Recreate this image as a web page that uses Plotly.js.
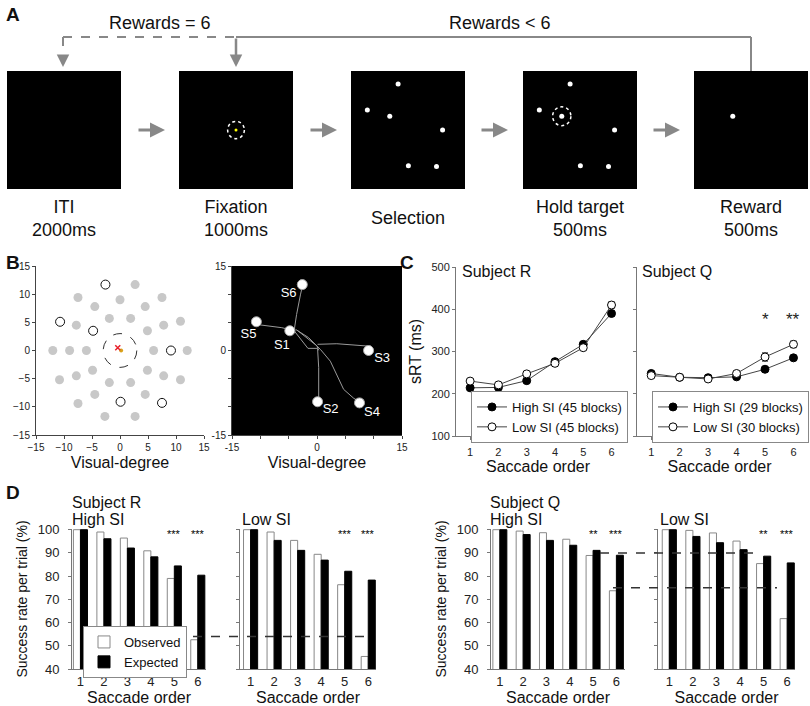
<!DOCTYPE html>
<html><head><meta charset="utf-8">
<script src="https://cdn.plot.ly/plotly-3.0.1.min.js"></script>
<style>html,body{margin:0;padding:0;background:#fff}#chart{width:810px;height:706px}</style>
</head><body><div id="chart"></div>
<script>
// ================= DATA =================
// Panel A: task stages
const stageNames = ['ITI', 'Fixation', 'Selection', 'Hold target', 'Reward'];
const stageDurations = ['2000ms', '1000ms', '', '500ms', '500ms'];
const loopLabels = ['Rewards = 6', 'Rewards < 6'];

// Panels A/B: example target set (visual degrees)
const targetNames = ['S1', 'S2', 'S3', 'S4', 'S5', 'S6'];
const targetX = [-4.8, 0.1, 9.1, 7.5, -10.7, -2.6];
const targetY = [3.5, -9.1, 0.0, -9.3, 5.1, 11.7];
const targetLabelX = [-6.2, 2.4, 11.5, 9.7, -12.1, -5.0];
const targetLabelY = [0.8, -10.6, -1.4, -11.0, 2.75, 10.0];

// Panel B left: other possible target positions (gray)
const gridX = [6, 4.9, 1.9, -1.9, -6, -4.9, -1.9, 1.9, 4.9,
  7.8, 4.5, 0, -4.5, -7.8, -9, -7.8, -4.5, 4.5, 7.8,
  12, 10.8, 7.5, 2.7, -7.5, -12, -10.8, -7.5, -2.7, 2.7, 10.8];
const gridY = [0, 3.5, 5.7, 5.7, 0, -3.5, -5.7, -5.7, -3.5,
  4.5, 7.8, 9, 7.8, 4.5, 0, -4.5, -7.8, -7.8, -4.5,
  0, 5.2, 9.4, 11.7, 9.4, 0, -5.2, -9.4, -11.7, -11.7, -5.2];
const eyeX = [-0.4], eyeY = [0.5];
const fixDotX = [0.2], fixDotY = [0.0];

// Panel B right: saccade trajectories (null separates saccades)
const trajX = [-3.8, -6.2, -10.5, null,
  -4.0, -3.6, -2.9, -2.6, null,
  -4.0, -1.6, 0.0, null,
  0.1, 0.3, 0.3, 0.1, null,
  0.1, 3.5, 8.8, 9.1, null,
  -3.8, -1.5, 0.6, 2.35, 4.7, 6.5, 7.35, null,
  -3.5, 0.0, 0.3];
const trajY = [3.46, 4.05, 4.6, null,
  3.76, 6.4, 10.0, 11.3, null,
  3.46, 0.38, 0.38, null,
  0.4, -3.05, -8.4, -9.0, null,
  1.1, 1.2, 0.8, 0.4, null,
  3.76, 2.3, 0.2, -1.9, -6.9, -8.5, -8.97, null,
  3.6, 0.8, 0.03];

// Panel C: saccadic reaction time (ms)
const saccadeOrder = [1, 2, 3, 4, 5, 6];
const srtR_high = [214, 215, 231, 276, 317, 390];
const srtR_high_err = [4, 3, 4, 5, 5, 6];
const srtR_low = [230, 221, 247, 272, 309, 410];
const srtR_low_err = [5, 4, 5, 5, 5, 8];
const srtQ_high = [248, 239, 238, 240, 258, 285];
const srtQ_high_err = [4, 3, 3, 3, 5, 5];
const srtQ_low = [243, 239, 235, 248, 287, 317];
const srtQ_low_err = [4, 3, 3, 4, 10, 8];
const legendNamesC = ['High SI (45 blocks)', 'Low SI (45 blocks)', 'High SI (29 blocks)', 'Low SI (30 blocks)'];
const starsC = ['', '', '', '', '*', '**'];

// Panel D: success rate per trial (%)
const succR_high_obs = [100, 99.0, 96.4, 90.9, 79.0, 52.6];
const succR_high_exp = [100, 96.1, 92.1, 88.3, 84.4, 80.4];
const succR_low_obs = [100, 99.0, 95.4, 89.4, 76.3, 45.4];
const succR_low_exp = [100, 95.4, 91.1, 86.9, 82.1, 78.3];
const succQ_high_obs = [100, 99.4, 98.7, 95.9, 88.9, 73.7];
const succQ_high_exp = [100, 97.9, 95.4, 93.3, 91.1, 89.0];
const succQ_low_obs = [100, 99.7, 98.6, 95.1, 85.4, 61.7];
const succQ_low_exp = [100, 97.1, 94.4, 91.4, 88.6, 85.7];
const starsDR = ['', '', '', '', '***', '***'];
const starsDQ = ['', '', '', '', '**', '***'];
const refLineR = 54;
const refLinesQ = [90, 75];

// ================= LAYOUT HELPERS =================
const W = 810, H = 706;
const px = v => v / W;
const py = v => 1 - v / H;
const xd = (a, b) => [px(a), px(b)];
const yd = (top, bot) => [py(bot), py(top)];
const FONT = 'Liberation Sans, Arial, Helvetica, sans-serif';

const traces = [];
const annotations = [];
const shapes = [];

// ---------- Panel A ----------
const boxCenters = [64, 236, 408, 580, 751];
const layoutAxes = {};
boxCenters.forEach((c, i) => {
  const n = i === 0 ? '' : String(i + 1);
  layoutAxes['xaxis' + n] = {domain: xd(c - 57, c + 57), range: [-15, 15], visible: false, fixedrange: true, anchor: 'y' + n};
  layoutAxes['yaxis' + n] = {domain: yd(71, 189), range: [-15, 15], visible: false, fixedrange: true, anchor: 'x' + n};
  shapes.push({type: 'rect', xref: 'x' + n + ' domain', yref: 'y' + n + ' domain', x0: 0, x1: 1, y0: 0, y1: 1,
    fillcolor: '#000', line: {width: 0}, layer: 'below'});
  const txt = stageDurations[i] ? stageNames[i] + '<br>' + stageDurations[i] : stageNames[i];
  annotations.push({xref: 'paper', yref: 'paper', x: px(c), y: py(218), text: txt, showarrow: false,
    xanchor: 'center', yanchor: 'middle', font: {size: 18, color: '#111'}});
});
// empty ITI screen (keeps the subplot alive)
traces.push({type: 'scatter', mode: 'markers', x: [null], y: [null], xaxis: 'x', yaxis: 'y',
  hoverinfo: 'skip', showlegend: false});
// fixation dot
traces.push({type: 'scatter', mode: 'markers', x: [0], y: [0], xaxis: 'x2', yaxis: 'y2',
  marker: {color: '#ffff00', size: 3}, hoverinfo: 'skip', showlegend: false});
shapes.push({type: 'circle', xref: 'x2', yref: 'y2', x0: -2.2, x1: 2.2, y0: -2.2, y1: 2.2,
  line: {color: '#fff', width: 1.5, dash: 'dot'}});
// selection & hold
['x3', 'x4'].forEach(xa => {
  traces.push({type: 'scatter', mode: 'markers', x: targetX, y: targetY, xaxis: xa, yaxis: 'y' + xa.slice(1),
    marker: {color: '#fff', size: 5}, hoverinfo: 'skip', showlegend: false});
});
shapes.push({type: 'circle', xref: 'x4', yref: 'y4', x0: targetX[0] - 2.4, x1: targetX[0] + 2.4,
  y0: targetY[0] - 2.4, y1: targetY[0] + 2.4, line: {color: '#fff', width: 1.5, dash: 'dot'}});
// reward
traces.push({type: 'scatter', mode: 'markers', x: [targetX[0]], y: [targetY[0]], xaxis: 'x5', yaxis: 'y5',
  marker: {color: '#fff', size: 5}, hoverinfo: 'skip', showlegend: false});
// flow arrows between boxes
[165, 337, 508, 680].forEach(tip => {
  annotations.push({xref: 'paper', yref: 'paper', x: px(tip), y: py(130), ax: -28, ay: 0, text: '',
    showarrow: true, arrowhead: 2, arrowsize: 1, arrowwidth: 3, arrowcolor: '#888'});
});
// loop connectors
const gcol = '#888';
shapes.push({type: 'line', xref: 'paper', yref: 'paper', x0: px(63), x1: px(236), y0: py(37), y1: py(37),
  line: {color: gcol, width: 2, dash: 'dash'}});
shapes.push({type: 'line', xref: 'paper', yref: 'paper', x0: px(63), x1: px(63), y0: py(37), y1: py(58),
  line: {color: gcol, width: 2, dash: 'dash'}});
annotations.push({xref: 'paper', yref: 'paper', x: px(63), y: py(67), ax: 0, ay: -10, text: '',
  showarrow: true, arrowhead: 2, arrowsize: 1, arrowwidth: 2.5, arrowcolor: gcol});
shapes.push({type: 'line', xref: 'paper', yref: 'paper', x0: px(236), x1: px(751), y0: py(37), y1: py(37),
  line: {color: gcol, width: 2}});
shapes.push({type: 'line', xref: 'paper', yref: 'paper', x0: px(751), x1: px(751), y0: py(37), y1: py(71),
  line: {color: gcol, width: 2}});
annotations.push({xref: 'paper', yref: 'paper', x: px(236), y: py(67), ax: 0, ay: -30, text: '',
  showarrow: true, arrowhead: 2, arrowsize: 1, arrowwidth: 2.5, arrowcolor: gcol});
annotations.push({xref: 'paper', yref: 'paper', x: px(160), y: py(23), text: loopLabels[0], showarrow: false,
  xanchor: 'center', yanchor: 'middle', font: {size: 18, color: '#111'}});
annotations.push({xref: 'paper', yref: 'paper', x: px(500), y: py(23), text: loopLabels[1], showarrow: false,
  xanchor: 'center', yanchor: 'middle', font: {size: 18, color: '#111'}});

// ---------- Panel B ----------
const bTicks = [-15, -10, -5, 0, 5, 10, 15];
const bAxisBase = {range: [-15, 15], showgrid: false, zeroline: false, showline: true, linecolor: '#444', linewidth: 1,
  ticks: 'outside', ticklen: 3, tickcolor: '#444', tickvals: bTicks, tickfont: {size: 10, color: '#222'}, fixedrange: true};
layoutAxes.xaxis6 = Object.assign({}, bAxisBase, {domain: xd(36, 204), anchor: 'y6',
  title: {text: 'Visual-degree', font: {size: 16, color: '#111'}, standoff: 4}});
layoutAxes.yaxis6 = Object.assign({}, bAxisBase, {domain: yd(266, 435), anchor: 'x6'});
layoutAxes.xaxis7 = Object.assign({}, bAxisBase, {domain: xd(232, 402), anchor: 'y7',
  ticktext: ['-15', '', '', '0', '', '', '15'],
  title: {text: 'Visual-degree', font: {size: 16, color: '#111'}, standoff: 4}});
layoutAxes.yaxis7 = Object.assign({}, bAxisBase, {domain: yd(266, 435), anchor: 'x7',
  ticktext: ['-15', '', '', '0', '', '', '15']});
shapes.push({type: 'rect', xref: 'x7 domain', yref: 'y7 domain', x0: 0, x1: 1, y0: 0, y1: 1,
  fillcolor: '#000', line: {width: 0}, layer: 'below'});
shapes.push({type: 'circle', xref: 'x6', yref: 'y6', x0: -3, x1: 3, y0: -3, y1: 3,
  line: {color: '#333', width: 1, dash: 'dash'}});
traces.push({type: 'scatter', mode: 'markers', x: gridX, y: gridY, xaxis: 'x6', yaxis: 'y6',
  marker: {color: '#c8c8c8', size: 9}, hoverinfo: 'skip', showlegend: false, cliponaxis: false});
traces.push({type: 'scatter', mode: 'markers', x: targetX, y: targetY, xaxis: 'x6', yaxis: 'y6',
  marker: {color: '#fff', size: 9, line: {color: '#111', width: 1}}, hoverinfo: 'skip', showlegend: false});
traces.push({type: 'scatter', mode: 'markers', x: fixDotX, y: fixDotY, xaxis: 'x6', yaxis: 'y6',
  marker: {color: '#d9a21a', size: 4}, hoverinfo: 'skip', showlegend: false});
traces.push({type: 'scatter', mode: 'markers', x: eyeX, y: eyeY, xaxis: 'x6', yaxis: 'y6',
  marker: {color: '#e8202a', size: 5, symbol: 'x-thin', line: {color: '#e8202a', width: 1.5}}, hoverinfo: 'skip', showlegend: false});
traces.push({type: 'scatter', mode: 'lines', x: trajX, y: trajY, xaxis: 'x7', yaxis: 'y7',
  line: {color: '#9a9a9a', width: 1}, hoverinfo: 'skip', showlegend: false});
traces.push({type: 'scatter', mode: 'markers', x: targetX, y: targetY, xaxis: 'x7', yaxis: 'y7',
  marker: {color: '#fff', size: 10, line: {color: '#aaa', width: 1}}, hoverinfo: 'skip', showlegend: false});
traces.push({type: 'scatter', mode: 'text', x: targetLabelX, y: targetLabelY, text: targetNames, xaxis: 'x7', yaxis: 'y7',
  textfont: {color: '#fff', size: 13}, hoverinfo: 'skip', showlegend: false, cliponaxis: false});

// ---------- Panel C ----------
const cX = {range: [0.5, 6.3], showgrid: false, zeroline: false, showline: true, linecolor: '#777', ticks: 'outside',
  ticklen: 3, tickcolor: '#777', tickvals: saccadeOrder, tickfont: {size: 11, color: '#222'}, fixedrange: true,
  ticklabelstandoff: 3,
  title: {text: 'Saccade order', font: {size: 16, color: '#111'}, standoff: 2}};
const cY = {range: [100, 500], showgrid: false, zeroline: false, showline: true, linecolor: '#777', ticks: 'outside',
  ticklen: 3, tickcolor: '#777', tickvals: [100, 200, 300, 400, 500], tickfont: {size: 11, color: '#222'}, fixedrange: true};
layoutAxes.xaxis8 = Object.assign({}, cX, {domain: xd(456, 620), anchor: 'y8'});
layoutAxes.yaxis8 = Object.assign({}, cY, {domain: yd(267, 436), anchor: 'x8',
  title: {text: 'sRT (ms)', font: {size: 16, color: '#111'}, standoff: 5}});
layoutAxes.xaxis9 = Object.assign({}, cX, {domain: xd(637, 802), anchor: 'y9'});
layoutAxes.yaxis9 = Object.assign({}, cY, {domain: yd(267, 436), anchor: 'x9', showticklabels: false});
function srtTrace(y, err, filled, name, xa, leg) {
  return {type: 'scatter', mode: 'lines+markers', x: saccadeOrder, y: y, name: name, xaxis: 'x' + xa, yaxis: 'y' + xa,
    legend: leg, line: {color: '#444', width: 1},
    marker: {size: 8, color: filled ? '#000' : '#fff', line: {color: '#000', width: 1}},
    error_y: {type: 'data', array: err, color: '#444', thickness: 1, width: 3}, hoverinfo: 'x+y'};
}
traces.push(srtTrace(srtR_high, srtR_high_err, true, legendNamesC[0], '8', 'legend'));
traces.push(srtTrace(srtR_low, srtR_low_err, false, legendNamesC[1], '8', 'legend'));
traces.push(srtTrace(srtQ_high, srtQ_high_err, true, legendNamesC[2], '9', 'legend2'));
traces.push(srtTrace(srtQ_low, srtQ_low_err, false, legendNamesC[3], '9', 'legend2'));
saccadeOrder.forEach((o, i) => {
  if (starsC[i]) annotations.push({xref: 'x9', yref: 'y9', x: o, y: 376, text: starsC[i], showarrow: false,
    xanchor: 'center', yanchor: 'middle', font: {size: 17, color: '#222'}});
});
annotations.push({xref: 'paper', yref: 'paper', x: px(460), y: py(272), text: 'Subject R', showarrow: false,
  xanchor: 'left', yanchor: 'middle', font: {size: 16, color: '#111'}});
annotations.push({xref: 'paper', yref: 'paper', x: px(640), y: py(272), text: 'Subject Q', showarrow: false,
  xanchor: 'left', yanchor: 'middle', font: {size: 16, color: '#111'}});

// ---------- Panel D ----------
const dDoms = [[72, 206, 0.64, 6.35], [240, 376, 0.55, 6.33], [491, 625, 0.62, 6.37], [658, 795, 0.52, 6.33]];
const dObs = [succR_high_obs, succR_low_obs, succQ_high_obs, succQ_low_obs];
const dExp = [succR_high_exp, succR_low_exp, succQ_high_exp, succQ_low_exp];
const dStars = [starsDR, starsDR, starsDQ, starsDQ];
dDoms.forEach((d, k) => {
  const n = String(10 + k);
  layoutAxes['xaxis' + n] = {domain: xd(d[0], d[1]), range: [d[2], d[3]], anchor: 'y' + n, showgrid: false, zeroline: false,
    showline: true, linecolor: '#777', ticks: '', tickvals: saccadeOrder, tickfont: {size: 13, color: '#222'}, fixedrange: true,
    title: {text: 'Saccade order', font: {size: 16, color: '#111'}, standoff: 2}};
  layoutAxes['yaxis' + n] = {domain: yd(529, 669), range: [40, 100.3], anchor: 'x' + n, showgrid: false, zeroline: false,
    showline: true, linecolor: '#777', ticks: 'outside', ticklen: 3, tickcolor: '#777',
    tickvals: [40, 50, 60, 70, 80, 90, 100], tickfont: {size: 13, color: '#222'}, ticklabelstandoff: 6,
    showticklabels: k % 2 === 0, fixedrange: true,
    title: k % 2 === 0 ? {text: 'Success rate per trial (%)', font: {size: 14, color: '#111'}, standoff: 6} : undefined};
  traces.push({type: 'bar', x: saccadeOrder, y: dObs[k], name: 'Observed', xaxis: 'x' + n, yaxis: 'y' + n,
    marker: {color: '#fff', line: {color: '#888', width: 1}}, legend: 'legend3', showlegend: k === 0});
  traces.push({type: 'bar', x: saccadeOrder, y: dExp[k], name: 'Expected', xaxis: 'x' + n, yaxis: 'y' + n,
    marker: {color: '#000', line: {color: '#000', width: 1}}, legend: 'legend3', showlegend: k === 0});
  saccadeOrder.forEach((o, i) => {
    if (dStars[k][i]) annotations.push({xref: 'x' + n, yref: 'y' + n, x: o, y: 98.3, text: dStars[k][i],
      showarrow: false, xanchor: 'center', yanchor: 'middle', font: {size: 11, color: '#000'}});
  });
});
// reference dashed lines
shapes.push({type: 'line', xref: 'paper', yref: 'y10', x0: px(193), x1: px(365), y0: refLineR, y1: refLineR,
  line: {color: '#333', width: 1.5, dash: 'dash'}, layer: 'above'});
shapes.push({type: 'line', xref: 'paper', yref: 'y12', x0: px(600), x1: px(762), y0: refLinesQ[0], y1: refLinesQ[0],
  line: {color: '#333', width: 1.5, dash: 'dash'}, layer: 'above'});
shapes.push({type: 'line', xref: 'paper', yref: 'y12', x0: px(613), x1: px(777), y0: refLinesQ[1], y1: refLinesQ[1],
  line: {color: '#333', width: 1.5, dash: 'dash'}, layer: 'above'});
[['Subject R', 70, 502], ['High SI', 70, 519], ['Low SI', 240, 519],
 ['Subject Q', 488, 502], ['High SI', 488, 519], ['Low SI', 658, 519]].forEach(a => {
  annotations.push({xref: 'paper', yref: 'paper', x: px(a[1]), y: py(a[2]), text: a[0], showarrow: false,
    xanchor: 'left', yanchor: 'middle', font: {size: 16, color: '#111'}});
});

// panel letters
[['A', 4, 15], ['B', 4, 262], ['C', 398, 262], ['D', 4, 492]].forEach(a => {
  annotations.push({xref: 'paper', yref: 'paper', x: px(a[1]), y: py(a[2]), text: '<b>' + a[0] + '</b>', showarrow: false,
    xanchor: 'left', yanchor: 'middle', font: {size: 19, color: '#111'}});
});

const legendBase = {xanchor: 'left', yanchor: 'top', bgcolor: '#fff', bordercolor: '#888', borderwidth: 1,
  font: {size: 13, color: '#111'}, tracegroupgap: 0, itemwidth: 30, traceorder: 'normal'};
const layout = Object.assign({
  width: W, height: H, margin: {l: 0, r: 0, t: 0, b: 0}, paper_bgcolor: '#fff', plot_bgcolor: 'rgba(0,0,0,0)',
  font: {family: FONT, color: '#111'}, barmode: 'group', bargap: 0.4, bargroupgap: 0, showlegend: true,
  legend: Object.assign({}, legendBase, {x: px(471), y: py(391)}),
  legend2: Object.assign({}, legendBase, {x: px(652), y: py(391)}),
  legend3: Object.assign({}, legendBase, {x: px(83), y: py(626)}),
  annotations: annotations, shapes: shapes, hovermode: false
}, layoutAxes);

Plotly.newPlot('chart', traces, layout, {displayModeBar: false, staticPlot: true});
</script></body></html>
